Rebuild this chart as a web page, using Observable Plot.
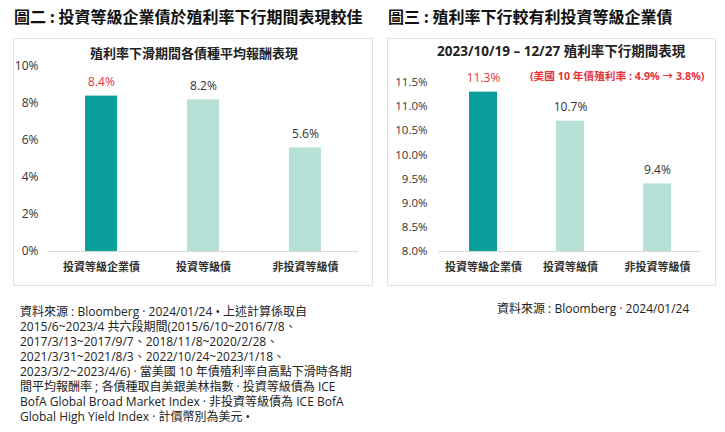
<!DOCTYPE html>
<html lang="zh-Hant-TW"><head><meta charset="utf-8">
<script src="https://cdn.jsdelivr.net/npm/d3@7"></script>
<script src="https://cdn.jsdelivr.net/npm/@observablehq/plot@0.6"></script>
<style>
html,body{margin:0;padding:0;background:#fff;}
body{width:725px;height:432px;position:relative;overflow:hidden;font-family:"Open Sans","Noto Sans CJK TC",sans-serif;color:#222;}
.abs{position:absolute;white-space:nowrap;}
.main{font-family:"Noto Sans CJK TC",sans-serif;font-weight:bold;font-size:16px;line-height:20px;color:#111;}
.panel{position:absolute;box-sizing:border-box;border:1px solid #e2e2e2;height:248px;top:38px;}
.sub{font-weight:bold;font-size:13px;line-height:16px;color:#222;}
.note{font-size:12px;line-height:15px;color:#222;}
.ln{position:absolute;left:0;height:15px;white-space:nowrap;}
svg [aria-label="x-axis tick label"] text{font-weight:bold;font-family:"Noto Sans CJK TC",sans-serif;}
</style></head>
<body>
<div class="panel" id="p1" style="left:13px;width:360px;"></div>
<div class="panel" id="p2" style="left:387px;width:329px;"></div>
<div class="abs main" style="left:14px;top:6px;">圖二 : 投資等級企業債於殖利率下行期間表現較佳</div>
<div class="abs main" style="left:388px;top:6px;">圖三 : 殖利率下行較有利投資等級企業債</div>
<div class="abs sub" style="left:90px;top:45px;font-family:'Noto Sans CJK TC',sans-serif;">殖利率下滑期間各債種平均報酬表現</div>
<div class="abs sub" style="left:437px;top:43px;font-size:13.5px;line-height:17px;">2023/10/19 – 12/27 殖利率下行期間表現</div>
<div class="abs" style="left:530px;top:69px;font-size:10.7px;line-height:15px;font-weight:bold;color:#e8323a;">(美國 10 年債殖利率 : 4.9% → 3.8%)</div>
<div class="abs note" style="left:20px;top:304px;width:360px;height:125px;">
<div class="ln" style="top:0px;">資料來源 : Bloomberg · 2024/01/24 • 上述計算係取自</div>
<div class="ln" style="top:15px;">2015/6~2023/4 共六段期間(2015/6/10~2016/7/8、</div>
<div class="ln" style="top:30px;">2017/3/13~2017/9/7、2018/11/8~2020/2/28、</div>
<div class="ln" style="top:45px;">2021/3/31~2021/8/3、2022/10/24~2023/1/18、</div>
<div class="ln" style="top:60px;">2023/3/2~2023/4/6) · 當美國 10 年債殖利率自高點下滑時各期</div>
<div class="ln" style="top:75px;">間平均報酬率 ; 各債種取自美銀美林指數 · 投資等級債為 ICE</div>
<div class="ln" style="top:90px;">BofA Global Broad Market Index · 非投資等級債為 ICE BofA</div>
<div class="ln" style="top:105px;">Global High Yield Index · 計價幣別為美元 •</div>
</div>
<div class="abs note" style="left:497px;top:301px;">資料來源 : Bloomberg · 2024/01/24</div>
<script>
const categories = ["投資等級企業債", "投資等級債", "非投資等級債"];
const leftValues = [8.4, 8.2, 5.6];
const rightValues = [11.3, 10.7, 9.4];
const leftTicks = [0, 2, 4, 6, 8, 10];
const rightTicks = [8, 8.5, 9, 9.5, 10, 10.5, 11, 11.5];
const rightBase = 8;

const darkColor = "#0a9e9c";
const lightColor = "#b7e1d7";
const redColor = "#e8323a";
const textColor = "#333";

const leftData = categories.map((c, i) => ({cat: c, v: leftValues[i], i}));
const rightData = categories.map((c, i) => ({cat: c, v: rightValues[i], i}));

const fontStack = '"Open Sans","Noto Sans CJK TC",sans-serif';

const left = Plot.plot({
  width: 358, height: 243,
  marginLeft: 34, marginRight: 14, marginTop: 25, marginBottom: 33,
  style: {fontFamily: fontStack, fontSize: "12px", color: textColor, background: "transparent"},
  x: {domain: categories, paddingInner: 0.69, paddingOuter: 0.35, label: null},
  y: {domain: [0, 10], ticks: leftTicks, label: null},
  marks: [
    Plot.axisY({ticks: leftTicks, tickSize: 0, tickPadding: 10, tickFormat: d => d + "%", fontSize: 12}),
    Plot.axisX({tickSize: 0, tickPadding: 12, fontSize: 11}),
    Plot.barY(leftData, {x: "cat", y: "v", fill: d => d.i === 0 ? darkColor : lightColor}),
    Plot.ruleY([0], {stroke: "#d9d9d9", strokeWidth: 1}),
    Plot.text(leftData, {x: "cat", y: "v", text: d => d.v.toFixed(1) + "%", dy: -14, fontSize: 12,
      fill: d => d.i === 0 ? redColor : textColor})
  ]
});
left.style.position = "absolute"; left.style.left = "0px"; left.style.top = "2px";
document.getElementById("p1").appendChild(left);

const right = Plot.plot({
  width: 327, height: 243,
  marginLeft: 50, marginRight: 14, marginTop: 41, marginBottom: 33,
  style: {fontFamily: fontStack, fontSize: "11px", color: textColor, background: "transparent"},
  x: {domain: categories, paddingInner: 0.68, paddingOuter: 0.335, label: null},
  y: {domain: [8, 11.5], ticks: rightTicks, label: null},
  marks: [
    Plot.axisY({ticks: rightTicks, tickSize: 0, tickPadding: 11, tickFormat: d => d.toFixed(1) + "%", fontSize: 11.5}),
    Plot.axisX({tickSize: 0, tickPadding: 12, fontSize: 11}),
    Plot.barY(rightData, {x: "cat", y1: d => rightBase, y2: "v", fill: d => d.i === 0 ? darkColor : lightColor}),
    Plot.ruleY([rightBase], {stroke: "#d9d9d9", strokeWidth: 1}),
    Plot.text(rightData, {x: "cat", y: "v", text: d => d.v.toFixed(1) + "%", dy: -14, fontSize: 12,
      fill: d => d.i === 0 ? redColor : textColor})
  ]
});
right.style.position = "absolute"; right.style.left = "0px"; right.style.top = "2px";
document.getElementById("p2").appendChild(right);
</script>
</body></html>
